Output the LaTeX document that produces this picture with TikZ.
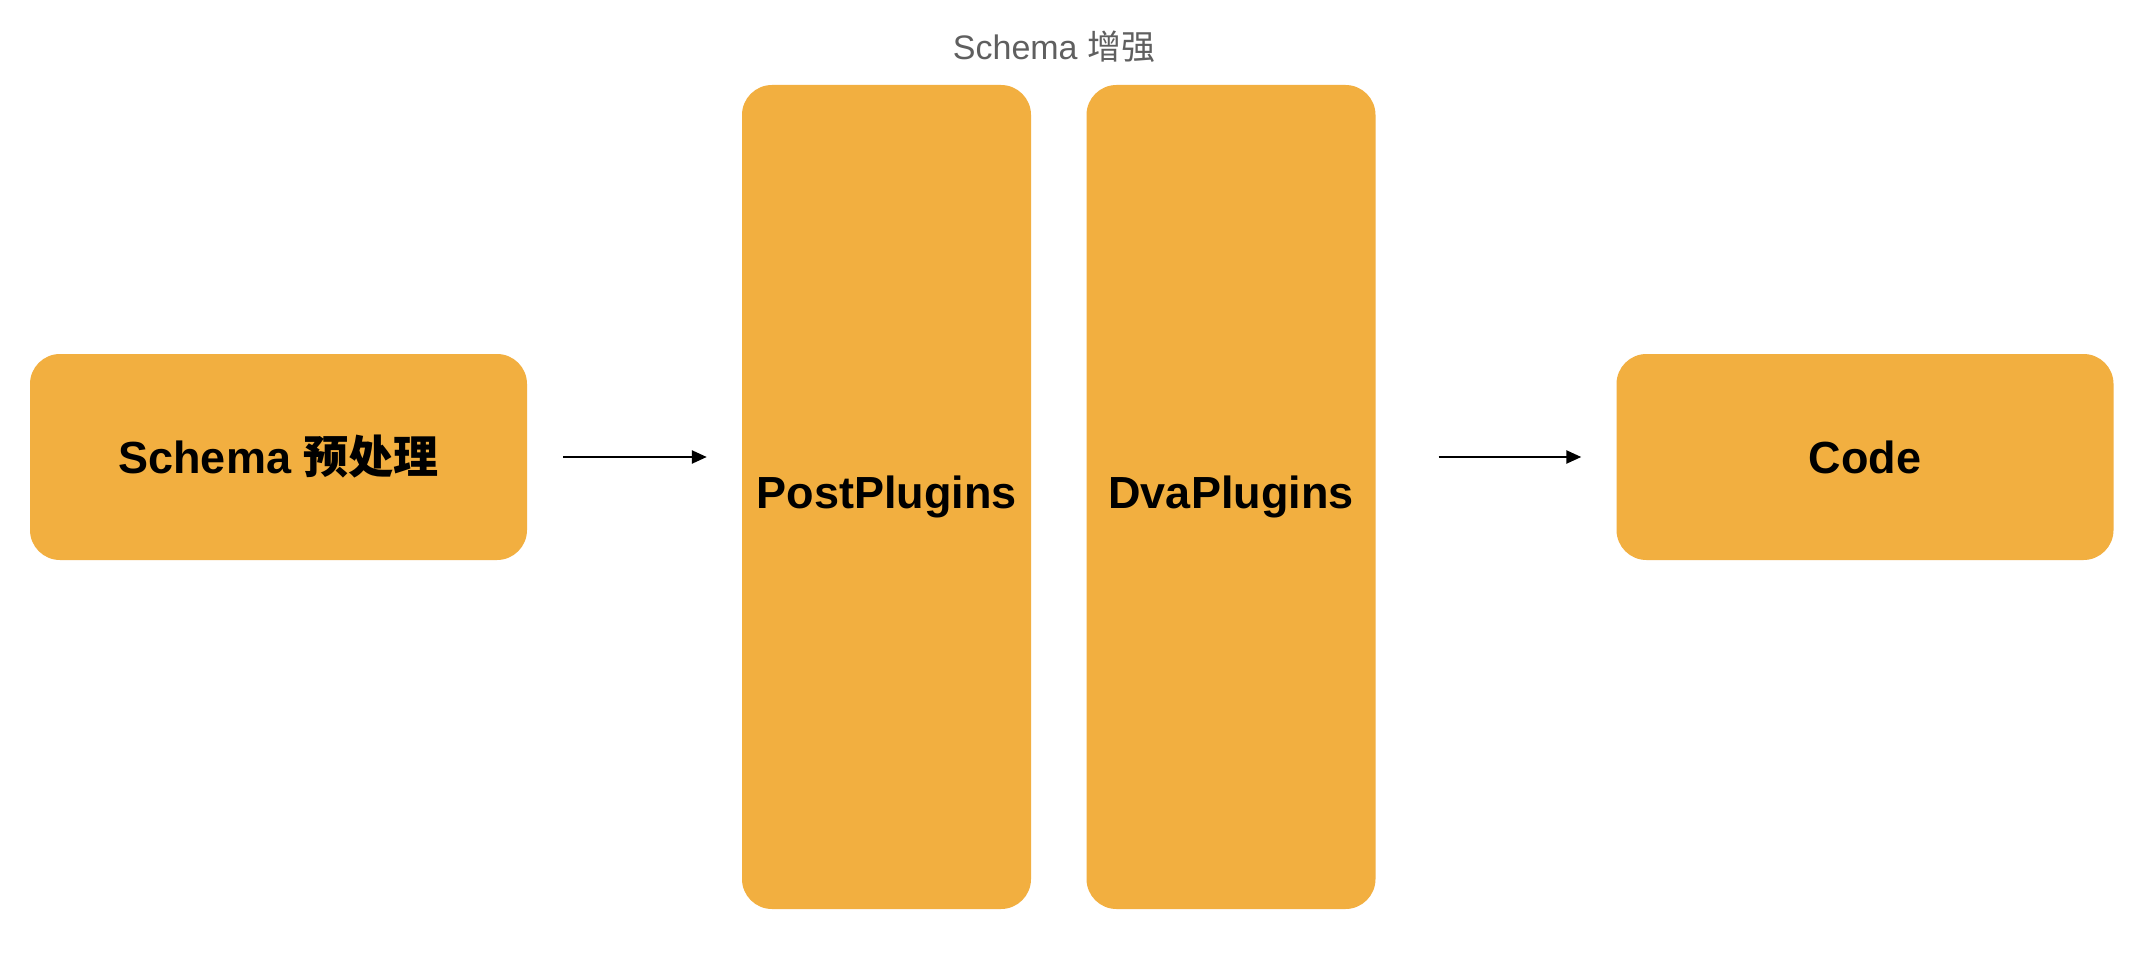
\documentclass[tikz,border=0pt]{standalone}
\usepackage{fontspec}
\setmainfont{Liberation Sans}
\newfontfamily\cjk{Noto Sans CJK SC}
\usetikzlibrary{arrows.meta}
\definecolor{boxorange}{RGB}{242,175,64}
\definecolor{titlegray}{RGB}{95,95,95}
\begin{document}
\begin{tikzpicture}[x=1pt,y=-1pt,
  box/.style={fill=boxorange, rounded corners=30pt, inner sep=0pt,
    font=\fontsize{45}{54}\selectfont\bfseries},
  wide/.style={minimum width=497pt, minimum height=206pt},
  tall/.style={minimum width=289pt, minimum height=824pt},
  flow/.style={line width=2.4pt, -{Triangle[length=15pt,width=13pt]}}]
\fill[white] (0,0) rectangle (2152,968);
\useasboundingbox (0,0) rectangle (2152,968);
\node[box, wide] (pre) at (278.5,457) {Schema {\cjk 预处理}};
\node[box, tall] (post) at (886.5,497) {PostPlugins};
\node[box, tall] (dva) at (1231,497) {DvaPlugins};
\node[box, wide] (code) at (1865,457) {Code};
\node[text=titlegray, font=\fontsize{34}{40}\selectfont, inner sep=0pt] (title) at (1054,47) {Schema {\cjk 增强}};
\draw[flow, shorten <=36pt, shorten >=35pt] (pre.east) -- (pre.east -| post.west);
\draw[flow, shorten <=63pt, shorten >=35pt] (code.west -| dva.east) -- (code.west);
\end{tikzpicture}
\end{document}
